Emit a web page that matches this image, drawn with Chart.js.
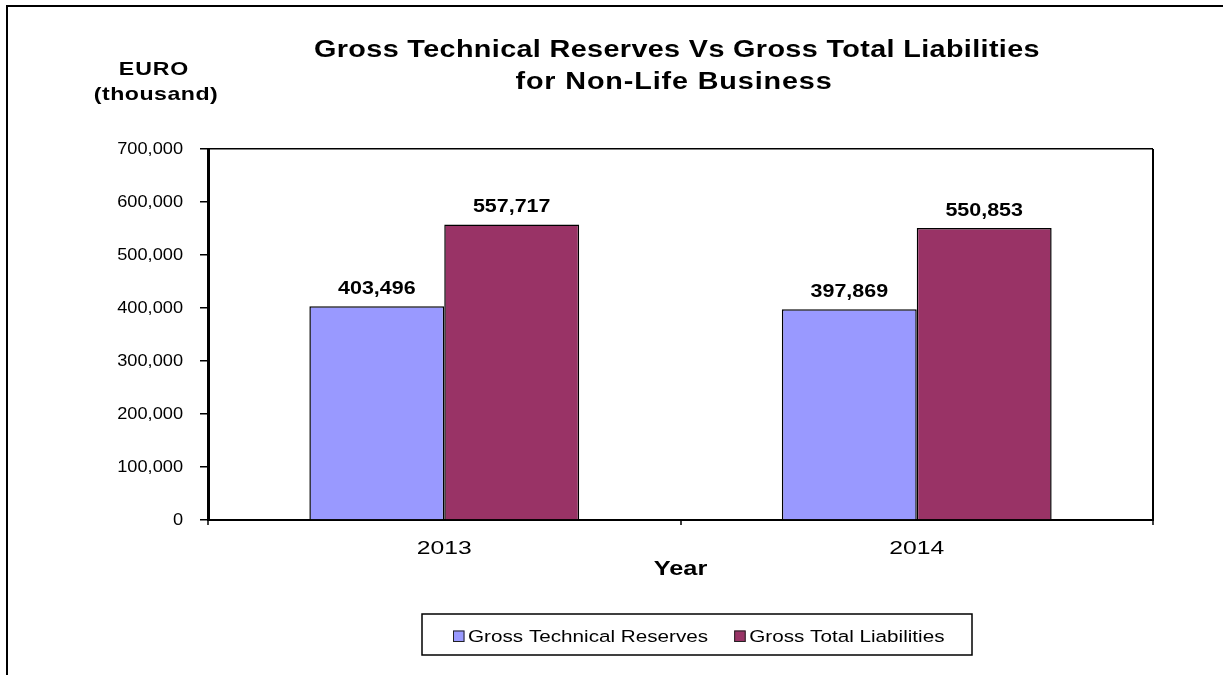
<!DOCTYPE html>
<html>
<head>
<meta charset="utf-8">
<title>Gross Technical Reserves Vs Gross Total Liabilities</title>
<script src="https://cdn.jsdelivr.net/npm/chart.js@4/dist/chart.umd.min.js"></script>
<style>
  html, body { margin: 0; padding: 0; background: #ffffff; }
  #wrap { width: 1223px; height: 675px; position: relative; }
</style>
</head>
<body>
<div id="wrap"><canvas id="chart"></canvas></div>
<script>
// ---- data ----
const years = ['2013', '2014'];
const grossTechnicalReserves = [403496, 397869];
const grossTotalLiabilities = [557717, 550853];
const yTickValues = [0, 100000, 200000, 300000, 400000, 500000, 600000, 700000];
const seriesNames = ['Gross Technical Reserves', 'Gross Total Liabilities'];
const titleLines = ['Gross Technical Reserves Vs Gross Total Liabilities', 'for Non-Life Business'];
const unitLines = ['EURO', '(thousand)'];
const xAxisTitle = 'Year';

const FONT = "'Liberation Sans', Arial, Helvetica, sans-serif";
const BLUE = '#9999FF';
const PLUM = '#993366';
const fmt = v => v.toLocaleString('en-US');

// Scales whose text is drawn with horizontally widened glyphs
function widenedScale(Base, id, sx) {
  class Widened extends Base {
    draw(area) {
      const ctx = this.ctx;
      const fill = ctx.fillText;
      ctx.fillText = function (text, x, y) {
        this.save();
        this.translate(x, y);
        this.scale(sx, 1);
        fill.call(this, text, 0, 0);
        this.restore();
      };
      try { super.draw(area); } finally { delete ctx.fillText; }
    }
  }
  Widened.id = id;
  Widened.defaults = Base.defaults;
  return Widened;
}
Chart.register(
  widenedScale(Chart.CategoryScale, 'wideCategory', 1.3),
  widenedScale(Chart.LinearScale, 'wideLinear', 1.07)
);

function drawText(ctx, text, x, y, font, align, sx, spacing) {
  ctx.save();
  ctx.font = font;
  ctx.letterSpacing = spacing || '0px';
  ctx.fillStyle = '#000';
  ctx.textAlign = align || 'left';
  ctx.textBaseline = 'alphabetic';
  ctx.translate(x, y);
  ctx.scale(sx || 1, 1);
  ctx.fillText(text, 0, 0);
  const w = ctx.measureText(text).width * (sx || 1);
  ctx.restore();
  return w;
}

// Frame, headings and the boxed legend
const decorations = {
  id: 'decorations',
  afterDraw(chart) {
    const ctx = chart.ctx;
    // outer frame (open to the right and bottom)
    ctx.save();
    ctx.strokeStyle = '#000';
    ctx.lineWidth = 2;
    ctx.beginPath();
    ctx.moveTo(7, 675);
    ctx.lineTo(7, 6);
    ctx.lineTo(1223, 6);
    ctx.stroke();
    ctx.restore();

    // title
    drawText(ctx, titleLines[0], 677, 57, `bold 23px ${FONT}`, 'center', 1.25, '0.3px');
    drawText(ctx, titleLines[1], 674, 89, `bold 23px ${FONT}`, 'center', 1.25, '0.7px');

    // unit label
    drawText(ctx, unitLines[0], 154, 75, `bold 18.5px ${FONT}`, 'center', 1.25, '0.7px');
    drawText(ctx, unitLines[1], 156, 100, `bold 18.5px ${FONT}`, 'center', 1.25, '0.4px');

    // legend
    const bx = 422, by = 614, bw = 550, bh = 41;
    ctx.save();
    ctx.strokeStyle = '#000';
    ctx.lineWidth = 1.5;
    ctx.strokeRect(bx, by, bw, bh);
    ctx.restore();

    const legendFont = `16.3px ${FONT}`;
    let x = 453;
    const base = 642;
    chart.data.datasets.forEach(ds => {
      ctx.save();
      ctx.fillStyle = ds.backgroundColor;
      ctx.strokeStyle = '#222';
      ctx.lineWidth = 1;
      ctx.fillRect(x, base - 11.5, 11.5, 11.5);
      ctx.strokeRect(x + 0.5, base - 11, 10.5, 10.5);
      ctx.restore();
      const tx = x + 15;
      const w = drawText(ctx, ds.label, tx, base, legendFont, 'left', 1.27);
      x = tx + w + 26;
    });
  }
};

// Value labels above each bar
const valueLabels = {
  id: 'valueLabels',
  afterDatasetsDraw(chart) {
    const ctx = chart.ctx;
    chart.data.datasets.forEach((ds, di) => {
      const meta = chart.getDatasetMeta(di);
      meta.data.forEach((bar, i) => {
        drawText(ctx, fmt(ds.data[i]), bar.x, bar.y - 12, `bold 18.5px ${FONT}`, 'center', 1.16);
      });
    });
  }
};

const topValue = yTickValues[yTickValues.length - 1];

new Chart(document.getElementById('chart'), {
  type: 'bar',
  data: {
    labels: years,
    datasets: [
      {
        label: seriesNames[0],
        data: grossTechnicalReserves,
        backgroundColor: BLUE,
        borderColor: '#000',
        borderWidth: 1.5,
        categoryPercentage: 0.571,
        barPercentage: 1.0
      },
      {
        label: seriesNames[1],
        data: grossTotalLiabilities,
        backgroundColor: PLUM,
        borderColor: '#000',
        borderWidth: 1.5,
        categoryPercentage: 0.571,
        barPercentage: 1.0
      }
    ]
  },
  options: {
    responsive: true,
    maintainAspectRatio: false,
    animation: false,
    events: [],
    layout: { padding: { left: 0, right: 70, top: 149, bottom: 94 } },
    plugins: {
      legend: { display: false },
      title: { display: false },
      tooltip: { enabled: false }
    },
    scales: {
      x: {
        type: 'wideCategory',
        offset: true,
        afterFit(scale) { scale.height = 61; },
        grid: {
          offset: true,
          drawOnChartArea: true,
          color: ctx => (ctx.type === 'scale' ? '#000' : 'rgba(0,0,0,0)'),
          lineWidth: 2,
          tickColor: '#000',
          tickWidth: 1.5,
          tickLength: 5
        },
        border: { display: true, color: '#000', width: 2 },
        ticks: {
          color: '#000',
          padding: 12,
          font: { family: FONT, size: 19 },
          maxRotation: 0
        },
        title: {
          display: true,
          text: xAxisTitle,
          color: '#000',
          padding: { top: 0, bottom: 0 },
          font: { family: FONT, size: 19.5, weight: 'bold' }
        }
      },
      y: {
        type: 'wideLinear',
        min: yTickValues[0],
        max: topValue,
        afterFit(scale) { scale.width = 208; },
        afterBuildTicks(scale) { scale.ticks = yTickValues.map(v => ({ value: v })); },
        grid: {
          color: ctx => (ctx.tick && ctx.tick.value === topValue ? '#000' : 'rgba(0,0,0,0)'),
          lineWidth: 1.5,
          tickColor: '#000',
          tickWidth: 1.5,
          tickLength: 8
        },
        border: { display: true, color: '#000', width: 3 },
        ticks: {
          color: '#000',
          padding: 17,
          font: { family: FONT, size: 17 },
          callback: v => fmt(v)
        }
      }
    }
  },
  plugins: [valueLabels, decorations]
});
</script>
</body>
</html>
